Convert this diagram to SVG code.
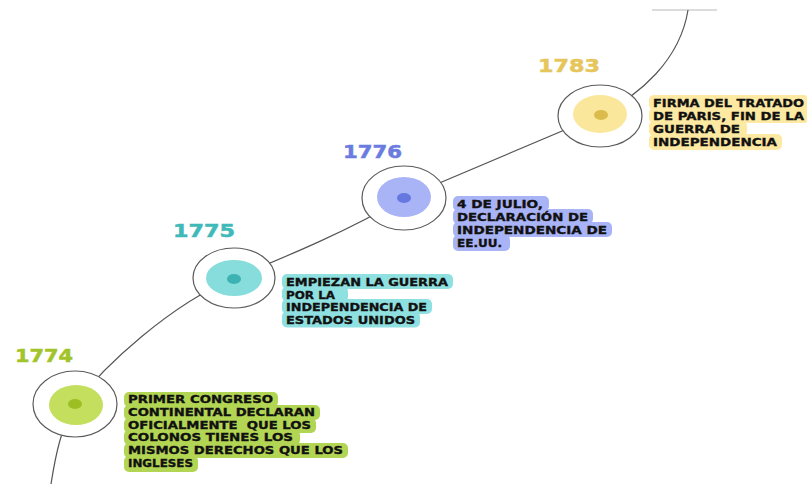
<svg xmlns="http://www.w3.org/2000/svg" width="807" height="484" viewBox="0 0 807 484">
<style>
.outer{fill:#fff;stroke:#5a5a5a;stroke-width:1.2}
.year{font-family:"DejaVu Sans","Liberation Sans",sans-serif;font-weight:bold;font-size:17px;stroke-width:0.5}
.desc{font-family:"DejaVu Sans","Liberation Sans",sans-serif;font-weight:bold;font-size:11px;fill:#111;stroke:#111;stroke-width:0.35;white-space:pre}
.conn{fill:none;stroke:#555;stroke-width:1.2}
</style>
<rect width="807" height="484" fill="#fff"/>
<g id="connectors">
<line x1="652" y1="10" x2="717" y2="10" stroke="#dcdcdc" stroke-width="2"/>
<path class="conn" d="M 51 484 C 56 452, 62 426, 75 404 C 105 365, 170 305, 234 278 C 290 255, 350 230, 404 198 L 600 115 C 640 95, 680 60, 688 10"/>
</g>
<g id="node-1774">
<ellipse class="outer" cx="75" cy="404" rx="42" ry="33"/>
<ellipse cx="76" cy="405" rx="27" ry="20" fill="#c4df5e"/>
<ellipse cx="75" cy="404" rx="7" ry="5" fill="#9dbf24"/>
<text class="year" x="15" y="362" fill="#a2c42a" stroke="#a2c42a" textLength="58" lengthAdjust="spacingAndGlyphs">1774</text>
<g fill="#b3d554">
<rect x="124" y="392" width="154" height="15" rx="5"/>
<rect x="124" y="405" width="196" height="15" rx="5"/>
<rect x="124" y="418" width="192" height="15" rx="5"/>
<rect x="124" y="430" width="176" height="15" rx="5"/>
<rect x="124" y="443" width="224" height="15" rx="5"/>
<rect x="124" y="456" width="74" height="16" rx="5"/>
</g>
<text class="desc" x="128" y="403" textLength="145" lengthAdjust="spacingAndGlyphs">PRIMER CONGRESO</text>
<text class="desc" x="128" y="416" textLength="187" lengthAdjust="spacingAndGlyphs">CONTINENTAL DECLARAN</text>
<text class="desc" x="128" y="429" textLength="183" lengthAdjust="spacingAndGlyphs">OFICIALMENTE  QUE LOS</text>
<text class="desc" x="128" y="441" textLength="165" lengthAdjust="spacingAndGlyphs">COLONOS TIENES LOS</text>
<text class="desc" x="128" y="454" textLength="215" lengthAdjust="spacingAndGlyphs">MISMOS DERECHOS QUE LOS</text>
<text class="desc" x="128" y="467" textLength="65" lengthAdjust="spacingAndGlyphs">INGLESES</text>
</g>
<g id="node-1775">
<ellipse class="outer" cx="234" cy="278" rx="41" ry="30"/>
<ellipse cx="234" cy="278" rx="28" ry="18" fill="#87dcdc"/>
<ellipse cx="234" cy="279" rx="7" ry="5" fill="#3cb2b2"/>
<text class="year" x="173" y="237" fill="#3fb9b9" stroke="#3fb9b9" textLength="62" lengthAdjust="spacingAndGlyphs">1775</text>
<g fill="#8fe0e0">
<rect x="282" y="274" width="171" height="15" rx="5"/>
<rect x="282" y="286.5" width="66" height="15" rx="5"/>
<rect x="282" y="299" width="150" height="15" rx="5"/>
<rect x="282" y="311.5" width="138" height="16" rx="5"/>
</g>
<text class="desc" x="286" y="286" textLength="162" lengthAdjust="spacingAndGlyphs">EMPIEZAN LA GUERRA</text>
<text class="desc" x="286" y="298.5" textLength="49" lengthAdjust="spacingAndGlyphs">POR LA</text>
<text class="desc" x="286" y="311" textLength="141" lengthAdjust="spacingAndGlyphs">INDEPENDENCIA DE</text>
<text class="desc" x="286" y="323.5" textLength="129" lengthAdjust="spacingAndGlyphs">ESTADOS UNIDOS</text>
</g>
<g id="node-1776">
<ellipse class="outer" cx="404" cy="198" rx="42" ry="32"/>
<ellipse cx="404" cy="197" rx="27" ry="20" fill="#a9b4f7"/>
<ellipse cx="404" cy="198" rx="7" ry="5" fill="#6677df"/>
<text class="year" x="343" y="158" fill="#6b7ce0" stroke="#6b7ce0" textLength="59" lengthAdjust="spacingAndGlyphs">1776</text>
<g fill="#a9b4f7">
<rect x="453" y="196" width="96" height="15" rx="5"/>
<rect x="453" y="209" width="140" height="15" rx="5"/>
<rect x="453" y="222" width="159" height="15" rx="5"/>
<rect x="453" y="235" width="57" height="16" rx="5"/>
</g>
<text class="desc" x="457" y="208" textLength="86" lengthAdjust="spacingAndGlyphs">4 DE JULIO,</text>
<text class="desc" x="457" y="221" textLength="131" lengthAdjust="spacingAndGlyphs">DECLARACIÓN DE</text>
<text class="desc" x="457" y="234" textLength="150" lengthAdjust="spacingAndGlyphs">INDEPENDENCIA DE</text>
<text class="desc" x="457" y="247" textLength="45" lengthAdjust="spacingAndGlyphs">EE.UU.</text>
</g>
<g id="node-1783">
<ellipse class="outer" cx="600" cy="116" rx="42" ry="31"/>
<ellipse cx="600" cy="114" rx="27" ry="19" fill="#fbe79c"/>
<ellipse cx="601" cy="115" rx="7" ry="5" fill="#dbbb4b"/>
<text class="year" x="538" y="72" fill="#e6c65a" stroke="#e6c65a" textLength="62" lengthAdjust="spacingAndGlyphs">1783</text>
<g fill="#fde9a2">
<rect x="649" y="95" width="160" height="15" rx="5"/>
<rect x="649" y="108" width="160" height="15" rx="5"/>
<rect x="649" y="121" width="98" height="15" rx="5"/>
<rect x="649" y="134" width="133" height="16" rx="5"/>
</g>
<text class="desc" x="653" y="107" textLength="151" lengthAdjust="spacingAndGlyphs">FIRMA DEL TRATADO</text>
<text class="desc" x="653" y="120" textLength="151" lengthAdjust="spacingAndGlyphs">DE PARIS, FIN DE LA</text>
<text class="desc" x="653" y="133" textLength="87" lengthAdjust="spacingAndGlyphs">GUERRA DE</text>
<text class="desc" x="653" y="146" textLength="124" lengthAdjust="spacingAndGlyphs">INDEPENDENCIA</text>
</g>
</svg>
